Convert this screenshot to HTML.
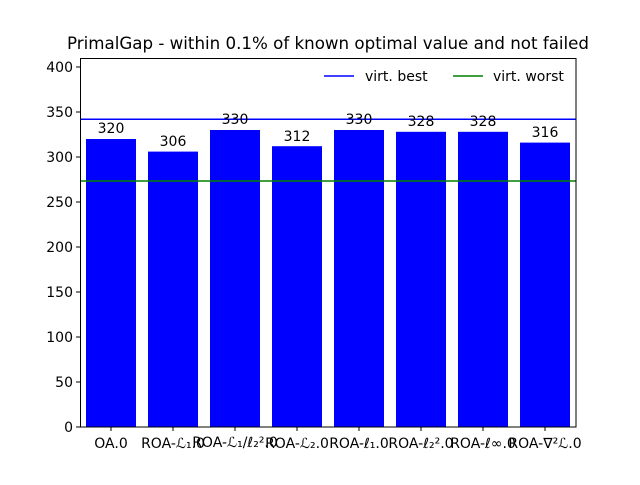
<!DOCTYPE html>
<html><head><meta charset="utf-8"><style>
body{margin:0;background:#fff}
svg text{font-family:"DejaVu Sans","Liberation Sans",sans-serif;fill:#000}
</style></head><body>
<svg width="640" height="480" xmlns="http://www.w3.org/2000/svg">
<rect width="640" height="480" fill="#fff"/>
<text x="328" y="49" font-size="16.7" text-anchor="middle" textLength="522" lengthAdjust="spacingAndGlyphs">PrimalGap - within 0.1% of known optimal value and not failed</text>
<g fill="#0000ff">
<rect x="86" y="139" width="50" height="288"/>
<rect x="148" y="151.6" width="50" height="275.4"/>
<rect x="210" y="130" width="50" height="297"/>
<rect x="272" y="146.2" width="50" height="280.8"/>
<rect x="334" y="130" width="50" height="297"/>
<rect x="396" y="131.8" width="50" height="295.2"/>
<rect x="458" y="131.8" width="50" height="295.2"/>
<rect x="520" y="142.6" width="50" height="284.4"/>
</g>
<line x1="80" x2="576" y1="119.2" y2="119.2" stroke="#0000ff" stroke-width="1.5"/>
<line x1="80" x2="576" y1="181" y2="181" stroke="#008000" stroke-width="1.5"/>
<g font-size="14" text-anchor="middle">
<text x="111" y="133">320</text><text x="173" y="146">306</text><text x="235" y="124">330</text><text x="297" y="141">312</text>
<text x="359" y="124">330</text><text x="421" y="126">328</text><text x="483" y="126">328</text><text x="545" y="137">316</text>
</g>
<rect x="80.5" y="58.5" width="495.5" height="368.5" fill="none" stroke="#000" stroke-width="1"/>
<g stroke="#000">
<line x1="76" x2="80" y1="427" y2="427"/><line x1="76" x2="80" y1="382" y2="382"/><line x1="76" x2="80" y1="337" y2="337"/>
<line x1="76" x2="80" y1="292" y2="292"/><line x1="76" x2="80" y1="247" y2="247"/><line x1="76" x2="80" y1="202" y2="202"/>
<line x1="76" x2="80" y1="157" y2="157"/><line x1="76" x2="80" y1="112" y2="112"/><line x1="76" x2="80" y1="67" y2="67"/>
<line x1="111" x2="111" y1="427" y2="431"/><line x1="173" x2="173" y1="427" y2="431"/><line x1="235" x2="235" y1="427" y2="431"/><line x1="297" x2="297" y1="427" y2="431"/>
<line x1="359" x2="359" y1="427" y2="431"/><line x1="421" x2="421" y1="427" y2="431"/><line x1="483" x2="483" y1="427" y2="431"/><line x1="545" x2="545" y1="427" y2="431"/>
</g>
<g font-size="14" text-anchor="end">
<text x="73" y="432">0</text><text x="73" y="387">50</text><text x="73" y="342">100</text><text x="73" y="297">150</text>
<text x="73" y="252">200</text><text x="73" y="207">250</text><text x="73" y="162">300</text><text x="73" y="117">350</text><text x="73" y="72">400</text>
</g>
<g font-size="14" text-anchor="middle">
<text x="111" y="448">OA.0</text><text x="173" y="448">ROA-ℒ₁.0</text><text x="235" y="447">ROA-ℒ₁/ℓ₂².0</text><text x="297" y="448">ROA-ℒ₂.0</text>
<text x="359" y="448">ROA-ℓ₁.0</text><text x="421" y="448">ROA-ℓ₂².0</text><text x="483" y="448">ROA-ℓ∞.0</text><text x="545" y="448">ROA-∇²ℒ.0</text>
</g>
<line x1="324" x2="354" y1="76" y2="76" stroke="#0000ff" stroke-width="1.5"/>
<text x="365" y="81" font-size="14">virt. best</text>
<line x1="453" x2="483" y1="76" y2="76" stroke="#008000" stroke-width="1.5"/>
<text x="493" y="81" font-size="14">virt. worst</text>
</svg>
</body></html>
